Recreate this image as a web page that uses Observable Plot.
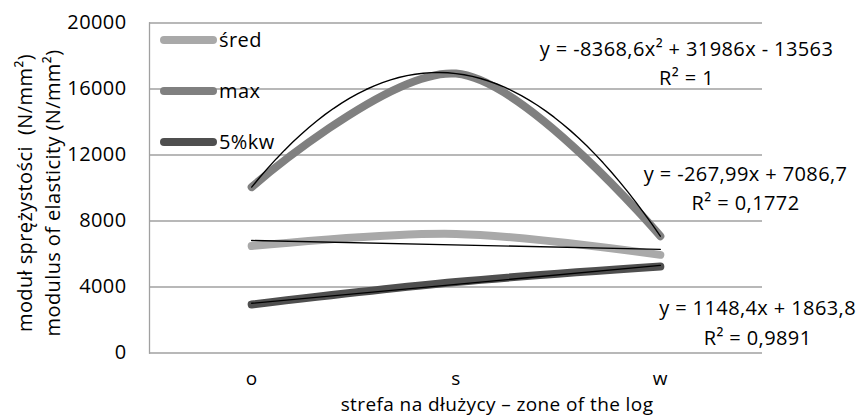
<!DOCTYPE html>
<html><head><meta charset="utf-8">
<script src="https://cdn.jsdelivr.net/npm/d3@7"></script>
<script src="https://cdn.jsdelivr.net/npm/@observablehq/plot@0.6"></script>
<style>body{margin:0;background:#fff}</style>
</head><body><div id="chart"></div>
<script>
// ---- data ----
const categories = ["o", "s", "w"];
const seriesNames = ["śred", "max", "5%kw"];
const sred = [6485, 7218, 5949];
const maxv = [10054, 16935, 7078];
const kw5 = [2943, 4300, 5239];
const yTicks = [0, 4000, 8000, 12000, 16000, 20000];
const maxTrendCoef = [-8368.6, 31986, -13563];
const sredTrendCoef = [-267.99, 7086.7];
const kwTrendCoef = [1148.4, 1863.8];
const equationLabels = ["y = -8368,6x² + 31986x - 13563", "y = -267,99x + 7086,7", "y = 1148,4x + 1863,8"];
const r2Labels = ["R² = 1", "R² = 0,1772", "R² = 0,9891"];
const yTitle = ["moduł sprężystości  (N/mm²)", "modulus of elasticity (N/mm²)"];
const xTitle = "strefa na dłużycy – zone of the log";

// ---- styling / layout ----
const colors = ["#a9a9a9", "#808080", "#4f4f4f"];
const FONT = "'Open Sans', 'Noto Sans', sans-serif";
const FS = 20;
const FSX = 19;
const LS = "0.4px";
const GRID = "#a0a0a0";
const labelAnchors = [{x: 3.128, y: 17703}, {x: 3.417, y: 10127}, {x: 3.476, y: 2000}];

const values = [sred, maxv, kw5];
const rows = seriesNames.flatMap((name, s) => categories.map((c, i) => ({name, x: i + 1, y: values[s][i]})));

// trendlines (evaluated from the chart's own trendline equations)
const xs = d3.range(1, 3.0001, 0.04);
const trend = [
  ...xs.map(x => ({name: "max", x, y: maxTrendCoef[0] * x * x + maxTrendCoef[1] * x + maxTrendCoef[2]})),
  ...[1, 3].map(x => ({name: "śred", x, y: sredTrendCoef[0] * x + sredTrendCoef[1]})),
  ...[1, 3].map(x => ({name: "5%kw", x, y: kwTrendCoef[0] * x + kwTrendCoef[1]}))
];
const eqData = equationLabels.map((t, i) => ({text: t + "\n" + r2Labels[i], ...labelAnchors[i]}));

const plot = Plot.plot({
  width: 860, height: 418,
  marginLeft: 149, marginRight: 98, marginTop: 22.5, marginBottom: 65.5,
  style: {fontFamily: FONT, fontSize: FS + "px", color: "#000", background: "#fff", overflow: "visible", letterSpacing: LS},
  x: {type: "linear", domain: [0.5, 3.5]},
  y: {domain: [0, 20000]},
  color: {domain: seriesNames, range: colors},
  marks: [
    Plot.ruleY(yTicks, {stroke: GRID, strokeWidth: 1.3}),
    Plot.frame({anchor: "left", stroke: GRID, strokeWidth: 1.3}),
    Plot.axisY(yTicks, {tickSize: 0, tickPadding: 23, label: null, tickFormat: d => String(d), fontSize: FS, fill: "#000"}),
    Plot.axisX([1, 2, 3], {tickSize: 0, tickPadding: 18.5, label: null, tickFormat: d => categories[d - 1], fontSize: FSX, fill: "#000"}),
    Plot.line(rows, {x: "x", y: "y", z: "name", stroke: "name", strokeWidth: 8, curve: "catmull-rom", strokeLinecap: "round", strokeLinejoin: "round"}),
    Plot.line(trend, {x: "x", y: "y", z: "name", stroke: "#000", strokeWidth: 1.4}),
    Plot.text(eqData, {x: "x", y: "y", text: "text", lineHeight: 30 / FS, fontSize: FS, fill: "#000", textAnchor: "middle"})
  ]
});

const svg = d3.select(plot);
// legend (inside the plot, top-left)
const lg = svg.append("g").attr("text-anchor", "start");
seriesNames.forEach((name, i) => {
  const y = 40 + i * 51;
  lg.append("line").attr("x1", 164).attr("x2", 213).attr("y1", y).attr("y2", y)
    .attr("stroke", colors[i]).attr("stroke-width", 8).attr("stroke-linecap", "round");
  lg.append("text").attr("x", 219).attr("y", y).attr("dy", "0.35em")
    .attr("font-size", FS).attr("fill", "#000").text(name);
});
// y-axis title (two lines, rotated)
const yt = svg.append("text").attr("transform", "translate(39,193) rotate(-90)")
  .attr("text-anchor", "middle").attr("font-size", FS).attr("fill", "#000");
yTitle.forEach((t, i) => yt.append("tspan").attr("x", 0).attr("y", (i - 0.5) * 28).attr("dy", "0.35em").text(t));
// x-axis title
svg.append("text").attr("x", 497).attr("y", 404).attr("dy", "0.35em").attr("text-anchor", "middle")
  .attr("font-size", FSX).attr("fill", "#000").text(xTitle);

document.getElementById("chart").appendChild(plot);
</script>
</body></html>
